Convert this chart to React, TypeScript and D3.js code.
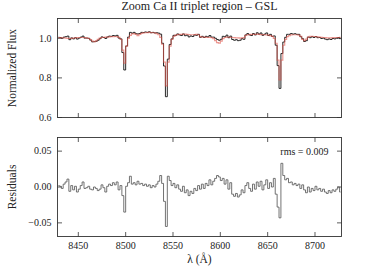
import React from 'react';
import * as d3 from 'd3';

// wavelength grid (pixel sampling of the spectrum)
const lambdaStart = 8429;
const lambdaStep = 2;

// best-fit model (red)
const model = [
  1.003, 1.003, 1.002, 1.002, 1.001, 1.000, 0.999, 1.000, 1.001, 1.002,
  1.003, 1.004, 1.004, 1.004, 1.003, 1.002, 0.999, 0.994, 0.986, 0.983,
  0.987, 0.995, 1.001, 1.004, 1.005, 1.006, 1.006, 1.007, 1.008, 1.008,
  1.009, 1.008, 1.005, 0.995, 0.940, 0.875, 0.960, 1.000, 1.015, 1.022,
  1.024, 1.020, 1.014, 1.020, 1.025, 1.027, 1.028, 1.029, 1.030, 1.029,
  1.028, 1.027, 1.024, 1.018, 1.005, 0.970, 0.880, 0.760, 0.880, 0.960,
  0.995, 1.010, 1.016, 1.019, 1.020, 1.020, 1.021, 1.021, 1.020, 1.019,
  1.018, 1.018, 1.019, 1.020, 1.018, 1.008, 1.006, 1.006, 1.005, 1.005,
  1.004, 1.003, 0.998, 0.988, 0.978, 0.976, 0.986, 0.998, 1.004, 1.006,
  1.006, 1.005, 1.004, 1.003, 1.002, 1.002, 1.001, 1.002, 1.003, 1.015,
  1.018, 1.019, 1.020, 1.020, 1.020, 1.021, 1.020, 1.019, 1.019, 1.018,
  1.017, 1.016, 1.014, 1.010, 1.000, 0.975, 0.890, 0.790, 0.890, 0.965,
  0.995, 1.008, 1.014, 1.017, 1.018, 1.018, 1.018, 1.016, 1.010, 0.995,
  0.988, 0.996, 1.006, 1.010, 1.010, 1.009, 1.008, 1.007, 1.006, 1.005,
  1.004, 1.003, 1.002, 1.002, 1.002, 1.003, 1.003, 1.004, 1.004, 1.005,
];

// observed spectrum (black)
const observed = [
  1.005, 1.004, 1.000, 1.006, 1.008, 1.011, 0.993, 1.002, 0.997, 1.003,
  0.996, 1.001, 1.006, 1.011, 1.001, 1.001, 1.000, 0.991, 0.982, 0.983,
  0.985, 0.990, 0.998, 1.007, 1.004, 0.999, 1.007, 1.011, 1.010, 1.014,
  1.012, 1.015, 1.001, 0.997, 0.928, 0.840, 0.961, 1.006, 1.030, 1.026,
  1.030, 1.023, 1.022, 1.024, 1.030, 1.029, 1.032, 1.030, 1.033, 1.028,
  1.030, 1.027, 1.028, 1.026, 1.021, 0.975, 0.860, 0.705, 0.895, 0.969,
  0.997, 1.015, 1.015, 1.022, 1.017, 1.014, 1.022, 1.013, 1.016, 1.007,
  1.012, 1.009, 1.017, 1.015, 1.020, 1.005, 1.010, 1.004, 1.010, 1.007,
  1.014, 1.006, 1.006, 1.000, 0.994, 0.990, 0.995, 1.010, 1.008, 1.016,
  1.003, 1.011, 0.994, 0.990, 0.993, 0.988, 0.990, 0.998, 0.995, 1.017,
  1.024, 1.017, 1.014, 1.024, 1.017, 1.028, 1.021, 1.027, 1.015, 1.021,
  1.027, 1.014, 1.020, 1.010, 1.012, 0.965, 0.862, 0.747, 0.923, 0.981,
  1.005, 1.020, 1.020, 1.024, 1.021, 1.023, 1.020, 1.020, 1.008, 0.998,
  0.984, 0.988, 1.006, 1.003, 1.008, 1.004, 1.009, 1.003, 1.004, 0.999,
  1.001, 0.996, 0.993, 0.997, 0.994, 0.999, 0.997, 1.001, 1.004, 0.998,
];

// observed - model
const residual = [
  0.002, 0.001, -0.002, 0.004, 0.007, 0.011, -0.006, 0.002, -0.004, 0.001,
  -0.007, -0.003, 0.002, 0.007, -0.002, -0.001, 0.001, -0.003, -0.004, 0.000,
  -0.002, -0.005, -0.003, 0.003, -0.001, -0.007, 0.001, 0.004, 0.002, 0.006,
  0.003, 0.007, -0.004, 0.002, -0.012, -0.035, 0.001, 0.006, 0.015, 0.004,
  0.006, 0.003, 0.008, 0.004, 0.005, 0.002, 0.004, 0.001, 0.003, -0.001,
  0.002, 0.000, 0.004, 0.008, 0.016, 0.005, -0.020, -0.055, 0.015, 0.009,
  0.002, 0.005, -0.001, 0.003, -0.003, -0.006, 0.001, -0.008, -0.004, -0.012,
  -0.006, -0.009, -0.002, -0.005, 0.002, -0.003, 0.004, -0.002, 0.005, 0.002,
  0.010, 0.003, 0.008, 0.012, 0.016, 0.014, 0.009, 0.012, 0.004, 0.010,
  -0.003, 0.006, -0.010, -0.013, -0.009, -0.014, -0.011, -0.004, -0.008, 0.002,
  0.006, -0.002, -0.006, 0.004, -0.003, 0.007, 0.001, 0.008, -0.004, 0.003,
  0.010, -0.002, 0.006, 0.000, 0.012, -0.010, -0.028, -0.043, 0.033, 0.016,
  0.010, 0.012, 0.006, 0.007, 0.003, 0.005, 0.002, 0.004, -0.002, 0.003,
  -0.004, -0.008, 0.000, -0.007, -0.002, -0.005, 0.001, -0.004, -0.002, -0.006,
  -0.003, -0.007, -0.009, -0.005, -0.008, -0.004, -0.006, -0.003, 0.000, -0.007,
];

const xTicks = [8450, 8500, 8550, 8600, 8650, 8700];
const fluxTicks = [0.6, 0.8, 1.0];
const residTicks = [-0.05, 0.0, 0.05];
const rmsText = 'rms = 0.009';

const W = 380;
const H = 266;
const FONT = '"Liberation Serif", "DejaVu Serif", serif';
const INK = '#222';

const x = d3.scaleLinear().domain([8428, 8728]).range([57.5, 341.5]);
const yTop = d3.scaleLinear().domain([0.6, 1.1]).range([117.5, 18.5]);
const yBot = d3.scaleLinear().domain([-0.069, 0.069]).range([236.5, 137.5]);

const wave = model.map((_, i) => lambdaStart + i * lambdaStep);

function Frame({ y, yTicks, fmt, showX, clipId }: any) {
  const [x0, x1] = x.range();
  const [b, t] = y.range();
  const tl = 4.5;
  return (
    <g>
      <rect x={x0} y={t} width={x1 - x0} height={b - t} fill="none" stroke="#333" strokeWidth={0.9} />
      {xTicks.map(v => (
        <g key={v}>
          <line x1={x(v)} x2={x(v)} y1={b} y2={b - tl} stroke="#333" strokeWidth={0.8} />
          <line x1={x(v)} x2={x(v)} y1={t} y2={t + tl} stroke="#333" strokeWidth={0.8} />
          {showX && (
            <text x={x(v)} y={b + 12} fontSize={10} fill={INK} textAnchor="middle" fontFamily={FONT}>{v}</text>
          )}
        </g>
      ))}
      {yTicks.map((v: number) => (
        <g key={v}>
          <line x1={x0} x2={x0 + tl} y1={y(v)} y2={y(v)} stroke="#333" strokeWidth={0.8} />
          <line x1={x1} x2={x1 - tl} y1={y(v)} y2={y(v)} stroke="#333" strokeWidth={0.8} />
          <text x={x0 - 6} y={y(v)} dy="0.33em" fontSize={10} fill={INK} textAnchor="end" fontFamily={FONT}>{fmt(v)}</text>
        </g>
      ))}
      <clipPath id={clipId}>
        <rect x={x0} y={t} width={x1 - x0} height={b - t} />
      </clipPath>
    </g>
  );
}

export default function App() {
  const obsLine = d3.line<number>()
    .x((_, i) => x(wave[i]))
    .y(d => yTop(d))
    .curve(d3.curveStep);
  const modelLine = d3.line<number>()
    .x((_, i) => x(wave[i]))
    .y(d => yTop(d))
    .curve(d3.curveStep);
  const resLine = d3.line<number>()
    .x((_, i) => x(wave[i]))
    .y(d => yBot(d))
    .curve(d3.curveStep);

  const fmtFlux = (v: number) => v.toFixed(1);
  const fmtRes = (v: number) => (v < 0 ? '\u2212' : '') + Math.abs(v).toFixed(2);

  return (
    <svg width={W} height={H} style={{ position: 'absolute', left: 0, top: 0, background: '#fff' }}>
      <rect width={W} height={H} fill="#fff" />
      <text x={199.5} y={10} fontSize={12} fill={INK} textAnchor="middle" fontFamily={FONT}>
        Zoom Ca II triplet region – GSL
      </text>

      <Frame y={yTop} yTicks={fluxTicks} fmt={fmtFlux} showX={false} clipId="clipTop" />
      <g clipPath="url(#clipTop)">
        <path d={obsLine(observed) || ''} fill="none" stroke="#111" strokeWidth={0.9} />
        <path d={modelLine(model) || ''} fill="none" stroke="#e0544a" strokeOpacity={0.6} strokeWidth={1.2} />
      </g>
      <text transform="translate(16,68) rotate(-90)" fontSize={11.5} fill={INK} textAnchor="middle" fontFamily={FONT}>
        Normalized Flux
      </text>

      <Frame y={yBot} yTicks={residTicks} fmt={fmtRes} showX={true} clipId="clipBot" />
      <g clipPath="url(#clipBot)">
        <path d={resLine(residual) || ''} fill="none" stroke="#5a5a5a" strokeWidth={0.85} />
      </g>
      <text x={328.5} y={155} fontSize={10} fill={INK} textAnchor="end" fontFamily={FONT}>{rmsText}</text>
      <text transform="translate(16,187) rotate(-90)" fontSize={11.5} fill={INK} textAnchor="middle" fontFamily={FONT}>
        Residuals
      </text>
      <text x={199.5} y={263} fontSize={11.5} fill={INK} textAnchor="middle" fontFamily={FONT}>λ (Å)</text>
    </svg>
  );
}
